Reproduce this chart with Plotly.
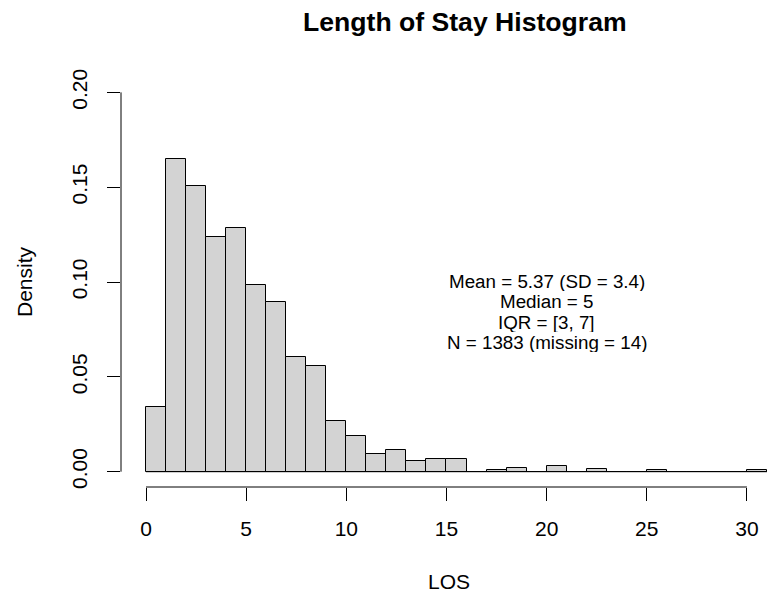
import plotly.graph_objects as go

# Data
bin_edges = list(range(0, 32))
density = [0.0340, 0.1649, 0.1504, 0.1236, 0.1287, 0.0983, 0.0897, 0.0607,
           0.0557, 0.0268, 0.0188, 0.0094, 0.0116, 0.0058, 0.0065, 0.0065,
           0.0, 0.0007, 0.0022, 0.0, 0.0029, 0.0, 0.0014, 0.0, 0.0,
           0.0007, 0.0, 0.0, 0.0, 0.0, 0.0007]
x_ticks = [0, 5, 10, 15, 20, 25, 30]
y_ticks = [0.00, 0.05, 0.10, 0.15, 0.20]
y_tick_labels = ["0.00", "0.05", "0.10", "0.15", "0.20"]
stats_lines = ["Mean = 5.37 (SD = 3.4)", "Median = 5", "IQR = [3, 7]",
               "N = 1383 (missing = 14)"]
stats_x = 20
stats_y = [0.1005, 0.0898, 0.0791, 0.0684]

FONT = "Liberation Sans, Arial, Helvetica, sans-serif"

centers = [(bin_edges[i] + bin_edges[i + 1]) / 2 for i in range(len(density))]

fig = go.Figure()
fig.add_trace(go.Bar(
    x=centers, y=density, width=1,
    marker=dict(color="#D3D3D3", line=dict(color="black", width=1)),
    hoverinfo="x+y",
))
# baseline for empty bins
fig.add_trace(go.Scatter(
    x=[bin_edges[0], bin_edges[-1]], y=[0, 0], mode="lines",
    line=dict(color="black", width=1), hoverinfo="skip",
))

# R-style axis lines (span only the tick range)
fig.add_shape(type="line", xref="paper", yref="y", x0=0, x1=0,
              y0=y_ticks[0], y1=y_ticks[-1], line=dict(color="black", width=1))
fig.add_shape(type="line", xref="x", yref="paper", x0=x_ticks[0], x1=x_ticks[-1],
              y0=0, y1=0, line=dict(color="black", width=1))

for txt, yy in zip(stats_lines, stats_y):
    fig.add_annotation(x=stats_x, y=yy, xref="x", yref="y", text=txt,
                       showarrow=False, xanchor="center", yanchor="middle",
                       height=20, valign="middle",
                       font=dict(family=FONT, size=18.8, color="black"))

fig.add_annotation(x=0.5, y=1, xref="paper", yref="paper", yshift=55, xshift=16,
                   text="<b>Length of Stay Histogram</b>", showarrow=False,
                   xanchor="center", yanchor="middle",
                   font=dict(family=FONT, size=26.6, color="black"))
fig.update_layout(
    width=769, height=589,
    margin=dict(l=113, r=0, t=69, b=110, pad=0),
    paper_bgcolor="white", plot_bgcolor="white",
    showlegend=False, bargap=0,
    font=dict(family=FONT, size=21, color="black"),
    xaxis=dict(range=[-1.248, 31.50], tickvals=x_ticks, ticks="outside",
               ticklen=13, tickwidth=1, tickcolor="black", showgrid=False,
               zeroline=False, showline=False, ticklabelstandoff=10,
               tickfont=dict(family=FONT, size=21, color="black")),
    yaxis=dict(range=[-0.00807, 0.2081], tickvals=y_ticks, ticktext=y_tick_labels,
               ticks="outside", ticklen=13, tickwidth=1, tickcolor="black",
               showgrid=False, zeroline=False, showline=False, tickangle=-90,
               ticklabelstandoff=12,
               tickfont=dict(family=FONT, size=21, color="black")),
)
# axis titles
fig.add_annotation(x=0.5, y=0, xref="paper", yref="paper", yshift=-94,
                   text="LOS", showarrow=False, xanchor="center", yanchor="middle",
                   font=dict(family=FONT, size=21, color="black"))
fig.add_annotation(x=0, y=0.5, xref="paper", yref="paper", xshift=-97,
                   text="Density", showarrow=False, textangle=-90,
                   xanchor="center", yanchor="middle",
                   font=dict(family=FONT, size=21, color="black"))

fig.write_html("out.html")
